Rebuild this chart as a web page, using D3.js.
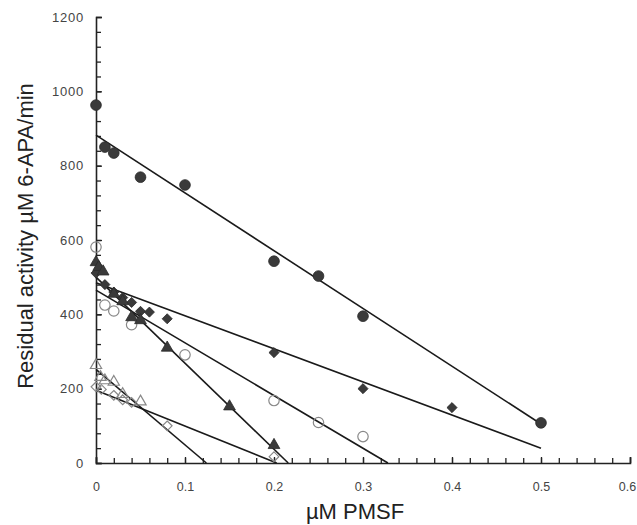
<!DOCTYPE html>
<html>
<head>
<meta charset="utf-8">
<script src="https://cdn.jsdelivr.net/npm/d3@7"></script>
<style>
  body { margin: 0; background: #fff; }
  svg text { font-family: "Liberation Sans", Arial, sans-serif; }
</style>
</head>
<body>
<div id="chart"></div>
<script>
// data (x in uM PMSF, y in uM 6-APA/min)
const filledCircles = [[0, 963], [0.01, 850], [0.02, 834], [0.05, 769], [0.1, 748], [0.2, 543], [0.25, 503], [0.3, 395], [0.5, 108]];
const filledDiamonds = [[0, 511], [0.01, 480], [0.02, 460], [0.03, 445], [0.04, 432], [0.05, 408], [0.06, 406], [0.08, 388], [0.2, 297], [0.3, 200], [0.4, 149]];
const filledTriangles = [[0, 540], [0.003, 527], [0.008, 515], [0.02, 455], [0.03, 435], [0.04, 392], [0.05, 384], [0.08, 310], [0.15, 152], [0.2, 48]];
const openCircles = [[0, 581], [0.01, 425], [0.02, 409], [0.04, 372], [0.1, 291], [0.2, 168], [0.25, 109], [0.3, 71]];
const openTriangles = [[0, 263], [0.005, 231], [0.01, 222], [0.02, 218], [0.03, 185], [0.05, 165]];
const openDiamonds = [[0, 205], [0.006, 198], [0.02, 182], [0.03, 170], [0.04, 163], [0.08, 100], [0.2, 17]];

// fitted lines: start and end point of each
const fitCircles = [[0, 882], [0.5, 105]];
const fitDiamonds = [[0, 485], [0.5, 40]];
const fitTriangles = [[0, 500], [0.216, 0]];
const fitOpenCircles = [[0, 465], [0.328, 0]];
const fitOpenTriangles = [[0, 252], [0.124, 0]];
const fitOpenDiamonds = [[0, 196], [0.203, 0]];

const xTicks = [0, 0.1, 0.2, 0.3, 0.4, 0.5, 0.6];
const yTicks = [0, 200, 400, 600, 800, 1000, 1200];

const margin = {top: 17, right: 7, bottom: 62, left: 96},
    width = 637, height = 525,
    w = width - margin.left - margin.right,
    h = height - margin.top - margin.bottom;

const svg = d3.select('#chart').append('svg')
    .attr('width', width)
    .attr('height', height);
const g = svg.append('g').attr('transform', `translate(${margin.left},${margin.top})`);

const x = d3.scaleLinear().domain([0, 0.6]).range([0, w]);
const y = d3.scaleLinear().domain([0, 1200]).range([h, 0]);

// minor ticks
g.append('g')
    .attr('transform', `translate(0,${h})`)
    .call(d3.axisBottom(x).tickValues(d3.range(0, 0.6001, 0.02)).tickSize(-5).tickFormat(''))
    .call(a => a.select('.domain').remove());
g.append('g')
    .call(d3.axisLeft(y).tickValues(d3.range(0, 1201, 40)).tickSize(-5).tickFormat(''))
    .call(a => a.select('.domain').remove());

// major axes
const xAxis = g.append('g')
    .attr('transform', `translate(0,${h})`)
    .call(d3.axisBottom(x).tickValues(xTicks).tickSize(-6).tickPadding(19).tickFormat(d => d === 0 ? '0' : d3.format('.1f')(d)));
const yAxis = g.append('g')
    .call(d3.axisLeft(y).tickValues(yTicks).tickSize(-6).tickPadding(12).tickFormat(d3.format('d')));

[xAxis, yAxis].forEach(a => {
    a.select('.domain').attr('stroke-width', 1.6).attr('stroke', '#222');
});
xAxis.selectAll('text').attr('font-size', 12.5).attr('fill', '#444');
xAxis.selectAll('.tick:last-of-type text').attr('dx', -3);
yAxis.selectAll('text').attr('font-size', 13).attr('letter-spacing', 0.8).attr('fill', '#444');
g.selectAll('.tick line').attr('stroke', '#222').attr('stroke-width', 1.3);

// axis titles
svg.append('text')
    .attr('x', 355).attr('y', 519)
    .attr('text-anchor', 'middle')
    .attr('font-size', 22).attr('fill', '#222')
    .text('\u00b5M PMSF');
svg.append('text')
    .attr('transform', 'translate(33,236) rotate(-90)')
    .attr('text-anchor', 'middle')
    .attr('font-size', 22).attr('fill', '#222')
    .text('Residual activity \u00b5M 6-APA/min');

// fitted lines
const line = d3.line().x(d => x(d[0])).y(d => y(d[1]));
[fitCircles, fitDiamonds, fitTriangles, fitOpenCircles, fitOpenTriangles, fitOpenDiamonds].forEach(f => {
    g.append('path')
        .attr('d', line(f))
        .attr('fill', 'none')
        .attr('stroke', '#1a1a1a')
        .attr('stroke-width', 1.6);
});

// markers
const series = [
    {pts: openCircles, sym: d3.symbolCircle, size: 85, open: true},
    {pts: openTriangles, sym: d3.symbolTriangle, size: 55, open: true},
    {pts: openDiamonds, sym: d3.symbolDiamond2, size: 60, open: true},
    {pts: filledCircles, sym: d3.symbolCircle, size: 90, open: false},
    {pts: filledDiamonds, sym: d3.symbolDiamond2, size: 65, open: false},
    {pts: filledTriangles, sym: d3.symbolTriangle, size: 60, open: false}
];
series.forEach(s => {
    g.selectAll(null)
        .data(s.pts)
        .enter().append('path')
        .attr('d', d3.symbol().type(s.sym).size(s.size))
        .attr('transform', d => `translate(${x(d[0])},${y(d[1])})`)
        .attr('fill', s.open ? 'none' : '#3a3a3a')
        .attr('stroke', s.open ? '#888' : '#2a2a2a')
        .attr('stroke-width', s.open ? 1.2 : 0.8);
});
</script>
</body>
</html>
